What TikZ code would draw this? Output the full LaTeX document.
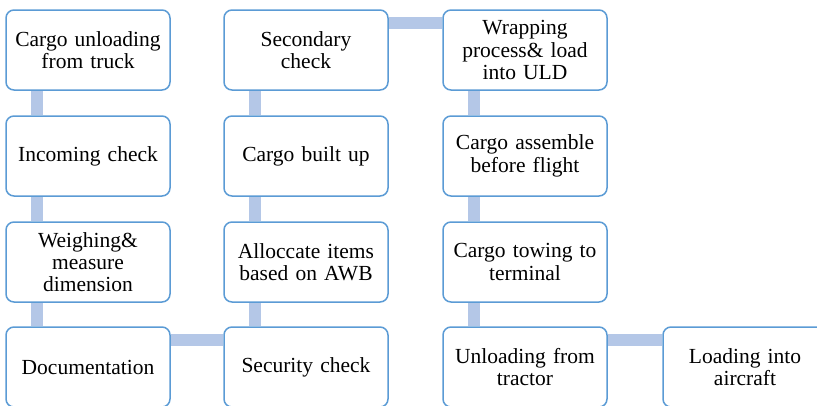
\documentclass[tikz,border=0pt]{standalone}
\usepackage{fontspec}
\setmainfont{Liberation Serif}
\definecolor{boxline}{RGB}{91,155,213}
\definecolor{barcol}{RGB}{180,199,231}
\begin{document}
\begin{tikzpicture}[x=1pt,y=-1pt,
  stepbox/.style={draw=boxline, line width=1.5pt, fill=white, rounded corners=8pt,
    minimum width=164pt, minimum height=80pt, inner sep=2pt, align=center,
    text width=160pt, font=\fontsize{21.5}{22.3}\selectfont},
  bar/.style={draw=barcol, line width=12pt}]
\useasboundingbox (0,0) rectangle (817,405);
% nodes
\node[stepbox] (a1) at (88,50) {Cargo unloading\\from truck};
\node[stepbox] (a2) at (88,156) {Incoming check};
\node[stepbox] (a3) at (88,262) {Weighing\&\\measure\\dimension};
\node[stepbox] (a4) at (88,367) {Documentation};
\node[stepbox] (b1) at (306,50) {Secondary\\check};
\node[stepbox] (b2) at (306,156) {Cargo built up};
\node[stepbox] (b3) at (306,262) {Alloccate items\\based on AWB};
\node[stepbox] (b4) at (306,367) {Security check};
\node[stepbox] (c1) at (525,50) {Wrapping\\process\& load\\into ULD};
\node[stepbox] (c2) at (525,156) {Cargo assemble\\before flight};
\node[stepbox] (c3) at (525,262) {Cargo towing to\\terminal};
\node[stepbox] (c4) at (525,367) {Unloading from\\tractor};
\node[stepbox] (d4) at (745,367) {Loading into\\aircraft};
% connectors
\draw[bar] ([xshift=32pt]a1.south west) -- ([xshift=32pt]a2.north west);
\draw[bar] ([xshift=32pt]a2.south west) -- ([xshift=32pt]a3.north west);
\draw[bar] ([xshift=32pt]a3.south west) -- ([xshift=32pt]a4.north west);
\draw[bar] ([yshift=-14pt]a4.north east) -- ([yshift=-14pt]b4.north west);
\draw[bar] ([xshift=32pt]b4.north west) -- ([xshift=32pt]b3.south west);
\draw[bar] ([xshift=32pt]b3.north west) -- ([xshift=32pt]b2.south west);
\draw[bar] ([xshift=32pt]b2.north west) -- ([xshift=32pt]b1.south west);
\draw[bar] ([yshift=-14pt]b1.north east) -- ([yshift=-14pt]c1.north west);
\draw[bar] ([xshift=32pt]c1.south west) -- ([xshift=32pt]c2.north west);
\draw[bar] ([xshift=32pt]c2.south west) -- ([xshift=32pt]c3.north west);
\draw[bar] ([xshift=32pt]c3.south west) -- ([xshift=32pt]c4.north west);
\draw[bar] ([yshift=-14pt]c4.north east) -- ([yshift=-14pt]d4.north west);
\end{tikzpicture}
\end{document}
